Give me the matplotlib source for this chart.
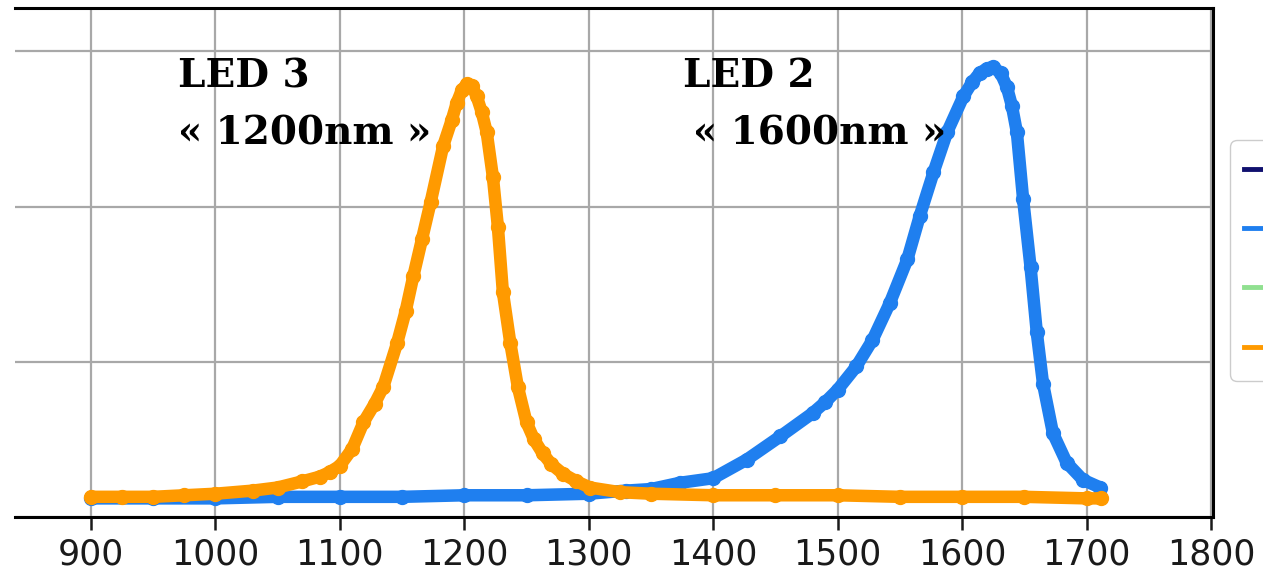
import numpy as np
import matplotlib
matplotlib.use('Agg')
import matplotlib.pyplot as plt
from matplotlib.lines import Line2D

# LED 3 (orange) spectrum
wl_led3 = [900, 925, 950, 975, 1000, 1030, 1050, 1070, 1084, 1092, 1100, 1110, 1119, 1128,
           1135, 1146, 1153, 1159, 1166, 1173, 1183, 1190, 1194, 1198, 1202, 1206, 1210,
           1214, 1218, 1223, 1227, 1231, 1237, 1243, 1250, 1256, 1263, 1270, 1279, 1290,
           1301, 1325, 1350, 1400, 1450, 1500, 1550, 1600, 1650, 1700, 1712]
int_led3 = [0.13, 0.13, 0.13, 0.14, 0.15, 0.17, 0.19, 0.23, 0.26, 0.29, 0.33, 0.44, 0.61, 0.73,
            0.84, 1.12, 1.33, 1.55, 1.79, 2.03, 2.39, 2.56, 2.67, 2.75, 2.79, 2.78, 2.71,
            2.61, 2.48, 2.19, 1.87, 1.45, 1.12, 0.84, 0.61, 0.50, 0.41, 0.34, 0.28, 0.23,
            0.19, 0.16, 0.15, 0.14, 0.14, 0.14, 0.13, 0.13, 0.13, 0.12, 0.12]

# LED 2 (blue) spectrum
wl_led2 = [900, 950, 1000, 1050, 1100, 1150, 1200, 1250, 1300, 1330, 1350, 1373, 1400, 1427,
           1454, 1480, 1490, 1500, 1515, 1528, 1542, 1556, 1566, 1577, 1588, 1601, 1608, 1614,
           1620, 1625, 1631, 1636, 1640, 1644, 1649, 1655, 1660, 1665, 1673, 1684, 1697, 1711]
int_led2 = [0.12, 0.12, 0.12, 0.13, 0.13, 0.13, 0.14, 0.14, 0.15, 0.17, 0.18, 0.22, 0.25, 0.37,
            0.52, 0.67, 0.74, 0.82, 0.97, 1.14, 1.38, 1.66, 1.94, 2.22, 2.48, 2.71, 2.80, 2.86,
            2.89, 2.90, 2.86, 2.77, 2.65, 2.48, 2.05, 1.61, 1.19, 0.86, 0.54, 0.35, 0.24, 0.19]

legend_colors = ['#10106e', '#1f7fef', '#90e090', '#ff9a00']
legend_labels = ['      '] * 4   # label text lies outside the visible crop

fig = plt.figure(figsize=(12.63, 5.72), dpi=100)
ax = fig.add_axes([15/1263, 1 - 517/572, (1213 - 15)/1263, (517 - 8)/572])

ax.plot(wl_led2, int_led2, color='#1f7fef', lw=9, marker='o', ms=10,
        solid_capstyle='round', solid_joinstyle='round', zorder=3)
ax.plot(wl_led3, int_led3, color='#ff9a00', lw=9, marker='o', ms=10,
        solid_capstyle='round', solid_joinstyle='round', zorder=4)

ax.set_xlim(839, 1801.6)
ax.set_ylim(0, 3.28)
ax.set_xticks(np.arange(900, 1801, 100))
ax.set_yticks([0, 1, 2, 3])
ax.grid(True, color='#a8a8a8', lw=1.6)
ax.set_axisbelow(True)
ax.tick_params(axis='x', labelsize=25, length=9, width=1.8, pad=6, colors='#1a1a1a')
ax.tick_params(axis='y', left=False, labelleft=False)
for s in ['top', 'right', 'bottom']:
    ax.spines[s].set_linewidth(2.2)
ax.spines['left'].set_visible(False)

serif = ['DejaVu Serif']
ax.text(970, 2.77, 'LED 3', fontsize=28, fontweight='bold', family=serif, va='baseline')
ax.text(970, 2.40, '« 1200nm »', fontsize=28, fontweight='bold', family=serif, va='baseline')
ax.text(1376, 2.77, 'LED 2', fontsize=28, fontweight='bold', family=serif, va='baseline')
ax.text(1384, 2.40, '« 1600nm »', fontsize=28, fontweight='bold', family=serif, va='baseline')

handles = [Line2D([0], [0], color=c, lw=3.5) for c in legend_colors]
fig.legend(handles, legend_labels, loc='upper left', bbox_to_anchor=(1230/1263, 1 - 140/572),
           borderaxespad=0, fontsize=26, labelspacing=0.7, handlelength=1.2,
           edgecolor='#cccccc', framealpha=1)

fig.savefig('out.png', dpi=100)
